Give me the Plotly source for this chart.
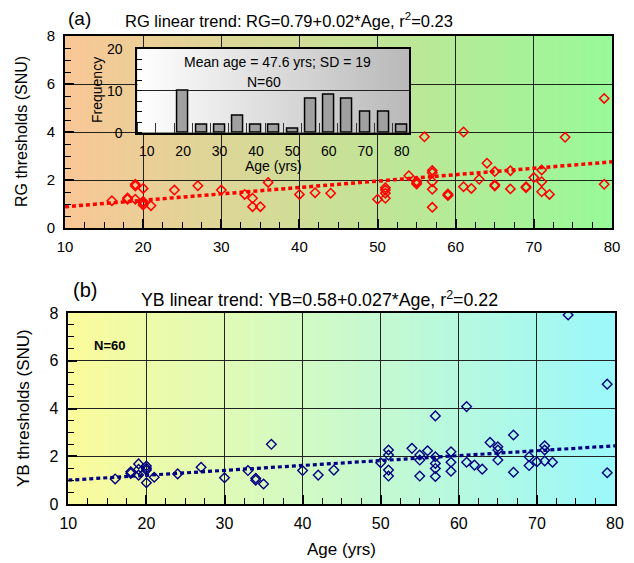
import zlib, struct, base64
import numpy as np
import plotly.graph_objects as go

# ---------------- data ----------------
ages = [16, 18, 18, 19, 19, 19, 20, 20, 20, 20,
        21, 24,
        27, 30,
        33, 34, 34, 35,
        36, 40,
        42, 44,
        50,
        51, 51, 51, 51, 54, 55, 55, 55,
        56, 57, 57, 57, 57, 57, 59, 59, 59,
        61, 61, 62, 63, 64, 65, 65, 65,
        67, 67, 69, 69, 70,
        71, 71, 71, 72, 74,
        79, 79]
rg_thresholds = [1.14, 1.2, 1.25, 1.82, 1.75, 1.2, 1.65, 1.1, 0.96, 1.05,
                 0.93, 1.58,
                 1.76, 1.58,
                 1.4, 1.24, 0.89, 0.89,
                 1.9, 1.4,
                 1.47, 1.45,
                 1.2,
                 1.68, 1.58, 1.45, 1.24, 2.18, 1.95, 1.88, 1.83,
                 3.8, 2.4, 2.3, 1.93, 1.61, 0.86, 1.42, 1.38, 1.35,
                 4.0, 1.72, 1.65, 2.03, 2.7, 2.35, 1.8, 1.75,
                 2.39, 1.63, 1.72, 1.68, 2.1,
                 2.42, 1.93, 1.51, 1.4, 3.78,
                 5.4, 1.82]
yb_thresholds = [1.05, 1.28, 1.35, 1.68, 1.45, 1.21, 1.59, 1.42, 0.89, 1.5,
                 1.12, 1.26,
                 1.54, 1.1,
                 1.4, 1.08, 1.0, 0.84,
                 2.5, 1.4,
                 1.21, 1.42,
                 1.73,
                 2.26, 2.05, 1.42, 1.17, 2.33, 2.05, 1.84, 1.17,
                 2.23, 3.69, 1.98, 1.49, 1.15, 1.7, 2.19, 1.75, 1.37,
                 4.08, 1.75, 1.63, 1.46, 2.58, 2.4, 2.26, 1.84,
                 2.89, 1.33, 1.98, 1.61, 1.77,
                 2.44, 2.26, 1.8, 1.75, 7.92,
                 5.02, 1.31]
trend_ages = [10, 80]
rg_trend_coef = [0.62, 0.0267]   # intercept, slope of drawn line
yb_trend_coef = [0.79, 0.0206]
hist_bins = [20, 25, 30, 35, 40, 45, 50, 55, 60, 65, 70, 75, 80]
hist_counts = [10, 2, 2, 4, 2, 2, 1, 8, 9, 8, 5, 5, 2]
x_ticks = [10, 20, 30, 40, 50, 60, 70, 80]
y_ticks = [0, 2, 4, 6, 8]

title_a = "RG linear trend: RG=0.79+0.02*Age, r<sup>2</sup>=0.23"
title_b = "YB linear trend: YB=0.58+0.027*Age, r<sup>2</sup>=0.22"
inset_text1 = "Mean age = 47.6 yrs; SD = 19"
inset_text2 = "N=60"

FONT = "Liberation Sans, Arial, sans-serif"
W, H = 634, 563


def px_x(p):
    return p / W


def px_y(p):
    return 1 - p / H


def gradient_png(c0, c1, w=256):
    row = bytearray([0])
    for i in range(w):
        t = i / (w - 1)
        row += bytes(int(round(c0[k] + (c1[k] - c0[k]) * t)) for k in range(3))
    raw = bytes(row) * 2

    def chunk(tag, data):
        return (struct.pack('>I', len(data)) + tag + data +
                struct.pack('>I', zlib.crc32(tag + data) & 0xffffffff))
    png = (b'\x89PNG\r\n\x1a\n' +
           chunk(b'IHDR', struct.pack('>IIBBBBB', w, 2, 8, 2, 0, 0, 0)) +
           chunk(b'IDAT', zlib.compress(raw)) + chunk(b'IEND', b''))
    return 'data:image/png;base64,' + base64.b64encode(png).decode()


fig = go.Figure()

ta = np.array(trend_ages, dtype=float)
# Panel a
fig.add_trace(go.Scatter(x=ta, y=rg_trend_coef[0] + rg_trend_coef[1] * ta, mode='lines',
                         line=dict(color='#ff0000', width=3.5, dash='4px,3px'),
                         xaxis='x', yaxis='y', showlegend=False, hoverinfo='skip'))
fig.add_trace(go.Scatter(x=ages, y=rg_thresholds, mode='markers',
                         marker=dict(symbol='diamond-open', size=7.2, color='#ff0000',
                                     line=dict(width=1.5, color='#ff0000')),
                         xaxis='x', yaxis='y', showlegend=False))
# Panel b
fig.add_trace(go.Scatter(x=ta, y=yb_trend_coef[0] + yb_trend_coef[1] * ta, mode='lines',
                         line=dict(color='#000080', width=3.2, dash='4px,3px'),
                         xaxis='x2', yaxis='y2', showlegend=False, hoverinfo='skip'))
fig.add_trace(go.Scatter(x=ages, y=yb_thresholds, mode='markers',
                         marker=dict(symbol='diamond-open', size=7.4, color='#000080',
                                     line=dict(width=1.4, color='#000080')),
                         xaxis='x2', yaxis='y2', showlegend=False))
# Inset histogram
fig.add_trace(go.Bar(x=hist_bins, y=hist_counts, width=3,
                     marker=dict(color='#a0a0a0', line=dict(color='black', width=1.5)),
                     xaxis='x3', yaxis='y3', showlegend=False))


def main_x(size):
    return dict(range=[10, 80], tickmode='array', tickvals=x_ticks, showgrid=True,
                gridcolor='#222', gridwidth=1.3, zeroline=False, showline=True,
                linecolor='black', linewidth=1.6, mirror=True, ticks='inside',
                ticklen=9, tickwidth=2, tickcolor='black', automargin=False,
                tickfont=dict(family=FONT, size=size, color='black'),
                ticklabelstandoff=4,
                minor=dict(tickmode='linear', tick0=0, dtick=2.5, ticks='inside',
                           ticklen=6, tickwidth=1.2, tickcolor='black', showgrid=False))


def main_y(size):
    return dict(range=[0, 8], tickmode='array', tickvals=y_ticks, showgrid=True,
                gridcolor='#222', gridwidth=1.3, zeroline=False, showline=True,
                linecolor='black', linewidth=1.6, mirror=True, ticks='inside',
                ticklen=9, tickwidth=2, tickcolor='black', automargin=False,
                tickfont=dict(family=FONT, size=size, color='black'),
                ticklabelstandoff=5,
                minor=dict(tickmode='linear', tick0=0, dtick=0.5, ticks='inside',
                           ticklen=6, tickwidth=1.2, tickcolor='black', showgrid=False))


fig.update_layout(
    width=W, height=H, margin=dict(l=0, r=0, t=0, b=0, autoexpand=False),
    paper_bgcolor='white', plot_bgcolor='rgba(0,0,0,0)',
    font=dict(family=FONT, color='black'),
    xaxis=dict(domain=[px_x(65), px_x(612)], anchor='y', **main_x(15)),
    yaxis=dict(domain=[px_y(228), px_y(36)], anchor='x', **main_y(15)),
    xaxis2=dict(domain=[px_x(68.3), px_x(615)], anchor='y2', **main_x(16)),
    yaxis2=dict(domain=[px_y(504), px_y(313)], anchor='x2', **main_y(16)),
    xaxis3=dict(domain=[px_x(137.3), px_x(409.3)], anchor='y3', range=[7.42, 82.09],
                tickmode='array', tickvals=x_ticks, showgrid=False, zeroline=False,
                showline=True, linecolor='black', linewidth=2, mirror=True,
                ticks='', automargin=False,
                tickfont=dict(family=FONT, size=14, color='black'),
                ticklabelstandoff=4,
                minor=dict(tickmode='linear', tick0=2.5, dtick=5, ticks='inside',
                           ticklen=10, tickwidth=1.3, tickcolor='#333', showgrid=False)),
    yaxis3=dict(domain=[px_y(132.7), px_y(48.7)], anchor='x3', range=[0, 20],
                tickmode='array', tickvals=[0, 10, 20], showgrid=True, gridcolor='#222',
                gridwidth=1.3, zeroline=False, showline=True, linecolor='black',
                linewidth=2, mirror=True, ticks='', automargin=False,
                tickfont=dict(family=FONT, size=14, color='black'),
                ticklabelstandoff=10,
                minor=dict(tickmode='linear', tick0=0, dtick=2.5, ticks='inside',
                           ticklen=5, tickwidth=1.2, tickcolor='black', showgrid=False)),
    bargap=0,
)

fig.update_layout(images=[
    dict(source=gradient_png((249, 199, 150), (152, 250, 152)), xref='x', yref='y',
         x=10, y=8, sizex=70, sizey=8, sizing='stretch', layer='below'),
    dict(source=gradient_png((251, 251, 155), (155, 248, 251)), xref='x2', yref='y2',
         x=10, y=8, sizex=70, sizey=8, sizing='stretch', layer='below'),
    dict(source=gradient_png((255, 255, 255), (185, 185, 185)), xref='x3', yref='y3',
         x=7.42, y=20, sizex=74.67, sizey=20, sizing='stretch', layer='below'),
])


def ann(text, x, y, size, **kw):
    d = dict(text=text, x=px_x(x), y=px_y(y), xref='paper', yref='paper',
             showarrow=False, font=dict(family=FONT, size=size, color='black'),
             xanchor='center', yanchor='middle')
    d.update(kw)
    return d


fig.update_layout(annotations=[
    ann("(a)", 79, 19, 19),
    ann(title_a, 289, 20, 16.5),
    ann("(b)", 85, 290, 20),
    ann(title_b, 319, 299, 17.8),
    ann("RG thresholds (SNU)", 21, 132, 16, textangle=-90),
    ann("YB thresholds (SNU)", 23, 408, 17, textangle=-90),
    ann("Age (yrs)", 341, 549, 17),
    ann("Frequency", 97, 90, 14, textangle=-90),
    ann("Age (yrs)", 273, 166, 14),
    ann(inset_text1, 277, 62, 14),
    ann(inset_text2, 264, 82, 14),
    ann("<b>N=60</b>", 109, 345, 13),
])

fig.write_html("out.html", config={'displayModeBar': False},
               post_script="document.body.style.margin='0px';document.body.style.padding='0px';")
